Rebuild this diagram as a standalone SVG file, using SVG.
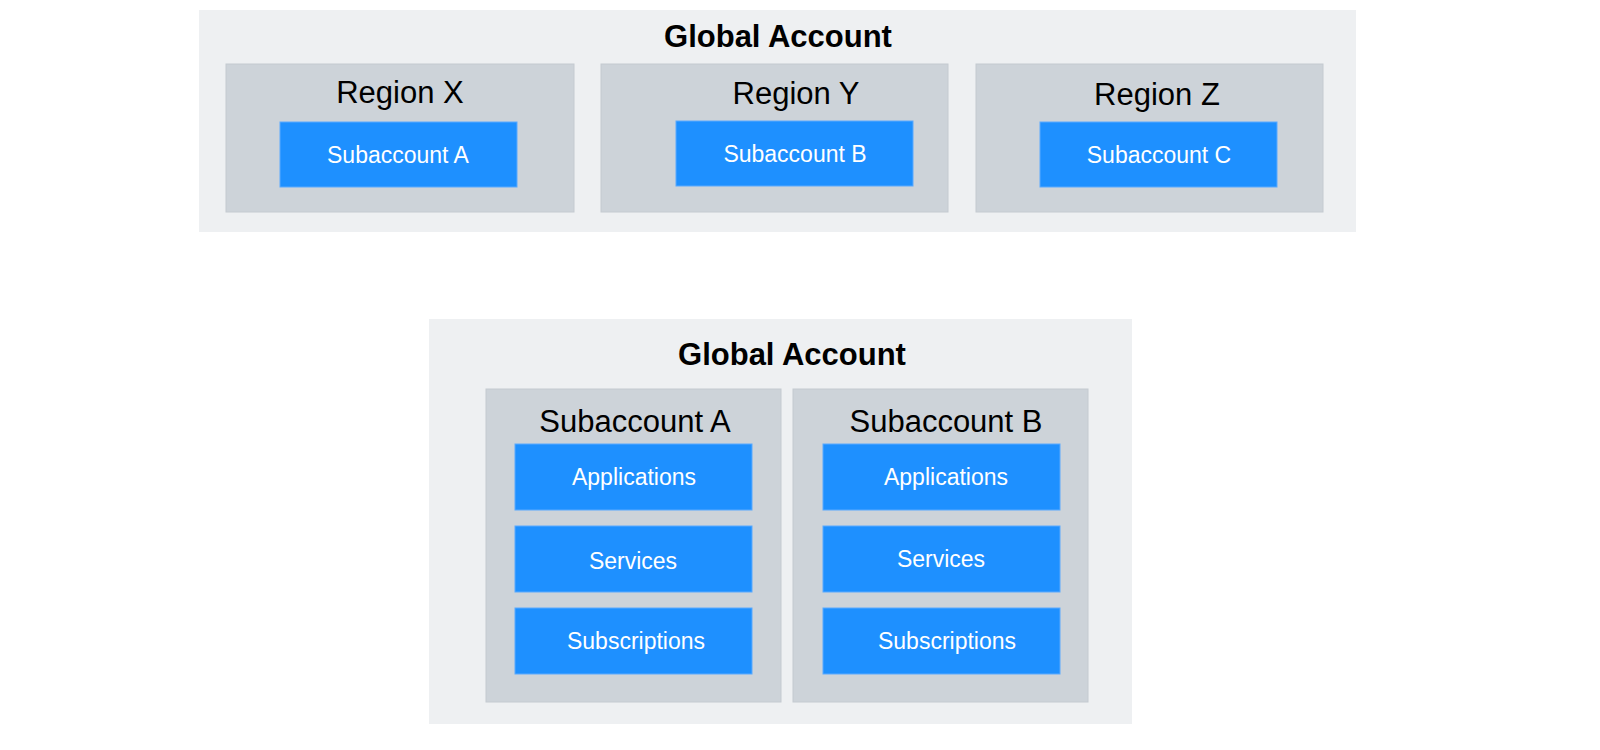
<svg xmlns="http://www.w3.org/2000/svg" width="1600" height="750" viewBox="0 0 1600 750">
<style>
.outer{fill:#eef0f2}
.panel{fill:#cdd3d9;stroke:#c4cad0;stroke-width:1}
.blue{fill:#1e90ff;stroke:#5aaaff;stroke-width:1}
.t1{font-family:"Liberation Sans",Arial,sans-serif;font-weight:bold;font-size:31px;fill:#000;text-anchor:middle}
.t2{font-family:"Liberation Sans",Arial,sans-serif;font-size:31px;fill:#000;text-anchor:middle}
.t3{font-family:"Liberation Sans",Arial,sans-serif;font-size:23px;fill:#fff;text-anchor:middle}
</style>
<rect width="1600" height="750" fill="#fff"/>
<g id="global1">
<rect class="outer" x="199" y="10" width="1157" height="222"/>
<text class="t1" x="778" y="47">Global Account</text>
</g>
<g id="regionX"><rect class="panel" x="226" y="64" width="348" height="148"/><text class="t2" x="400" y="103">Region  X</text></g>
<g id="regionY"><rect class="panel" x="601" y="64" width="347" height="148"/><text class="t2" x="796" y="104">Region  Y</text></g>
<g id="regionZ"><rect class="panel" x="976" y="64" width="347" height="148"/><text class="t2" x="1157" y="105">Region  Z</text></g>
<g id="subA1"><rect class="blue" x="280" y="122" width="237" height="65"/><text class="t3" x="398" y="163">Subaccount A</text></g>
<g id="subB1"><rect class="blue" x="676" y="121" width="237" height="65"/><text class="t3" x="795" y="162">Subaccount B</text></g>
<g id="subC1"><rect class="blue" x="1040" y="122" width="237" height="65"/><text class="t3" x="1159" y="163">Subaccount C</text></g>
<g id="global2">
<rect class="outer" x="429" y="319" width="703" height="405"/>
<text class="t1" x="792" y="365">Global Account</text>
</g>
<g id="subA2"><rect class="panel" x="486" y="389" width="295" height="313"/><text class="t2" x="635" y="432">Subaccount  A</text></g>
<g id="subB2"><rect class="panel" x="793" y="389" width="295" height="313"/><text class="t2" x="946" y="432">Subaccount  B</text></g>
<g id="appsA"><rect class="blue" x="515" y="444" width="237" height="66"/><text class="t3" x="634" y="485">Applications</text></g>
<g id="servA"><rect class="blue" x="515" y="526" width="237" height="66"/><text class="t3" x="633" y="569">Services</text></g>
<g id="subsA"><rect class="blue" x="515" y="608" width="237" height="66"/><text class="t3" x="636" y="649">Subscriptions</text></g>
<g id="appsB"><rect class="blue" x="823" y="444" width="237" height="66"/><text class="t3" x="946" y="485">Applications</text></g>
<g id="servB"><rect class="blue" x="823" y="526" width="237" height="66"/><text class="t3" x="941" y="567">Services</text></g>
<g id="subsB"><rect class="blue" x="823" y="608" width="237" height="66"/><text class="t3" x="947" y="649">Subscriptions</text></g>
<g id="connectors"/>
</svg>
